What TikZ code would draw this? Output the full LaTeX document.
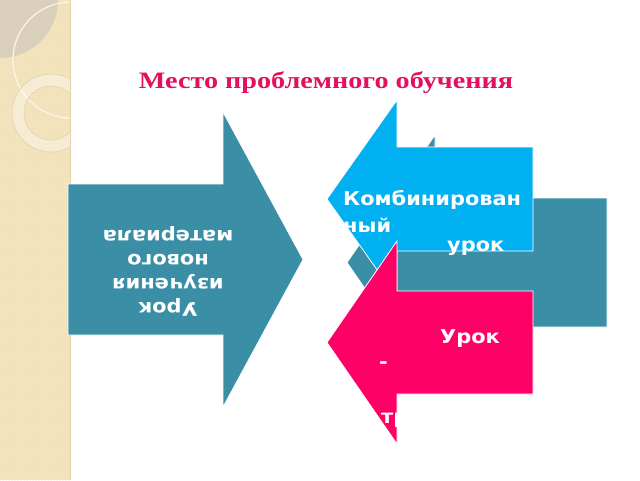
\documentclass[tikz,border=0pt]{standalone}
\usepackage{fontspec}
\setmainfont{Liberation Serif}
\newfontfamily\arrowfont[FakeStretch=1.1]{DejaVu Sans}
\newfontfamily\titlefont[FakeStretch=1.2]{Liberation Serif}
\usetikzlibrary{patterns}
\definecolor{blueA}{HTML}{00B0F0}
\definecolor{tealA}{HTML}{3A8FA7}
\definecolor{pinkA}{HTML}{FF0066}
\definecolor{titlered}{HTML}{E2105E}
\definecolor{beige}{HTML}{F3E4BE}
\definecolor{beigedot}{HTML}{E6D3A6}
\definecolor{grayq}{HTML}{D9CFBA}
\definecolor{cream}{HTML}{FBF6EA}
\definecolor{stripedge}{HTML}{E2D2AC}
\begin{document}
\begin{tikzpicture}[x=1pt,y=-1pt,
  arrowshape/.style={draw=white, line width=0.8pt},
  lbl/.style={text=white, font=\arrowfont\bfseries\fontsize{19}{24}\selectfont, inner sep=0pt}]
\useasboundingbox (0,0) rectangle (640,480);
\fill[white] (0,0) rectangle (640,480);
% decorative strip
\begin{scope}
  \clip (0,0) rectangle (70,480);
  \fill[beige] (0,0) rectangle (70,480);
  \fill[pattern=dots, pattern color=beigedot] (0,0) rectangle (70,480);
  \fill[grayq] (0,0) circle (58pt);
  \draw[cream, line width=1.2pt] (71,60) circle (58pt);
  \fill[white, opacity=0.35, even odd rule] (51,113) circle (39pt) (51,113) circle (27pt);
  \draw[stripedge, line width=0.6pt] (51,113) circle (39pt) (51,113) circle (27pt);
\end{scope}
\draw[stripedge, line width=1pt] (70,0) -- (70,480);
% title
\node[anchor=base, inner sep=0pt, text=titlered, font=\titlefont\bfseries\fontsize{23.5}{28}\selectfont] (title) at (326,88.3) {Место проблемного обучения};
% left arrow
\filldraw[arrowshape, fill=tealA] (68,184) -- (223,184) -- (223,112) -- (303,259.5) -- (223,407) -- (223,335) -- (68,335) -- cycle;
\node[lbl, rotate=180, align=center] (t1) at (168,271) {Урок\\изучения\\нового\\материала};
% right arrows
\filldraw[arrowshape, fill=tealA] (607,198) -- (435,198) -- (435,135) -- (347,262.5) -- (435,390) -- (435,327) -- (607,327) -- cycle;
\filldraw[arrowshape, fill=blueA] (533,147) -- (397,147) -- (397,100) -- (327,199) -- (397,298) -- (397,251) -- (533,251) -- cycle;
\node[lbl, anchor=base west] (t2) at (343,205) {Комбинирован};
\node[lbl, anchor=base west] (t3) at (343,232) {ный};
\node[lbl, anchor=base west] (t4) at (447,251) {урок};
\filldraw[arrowshape, fill=pinkA] (533,291) -- (397,291) -- (397,241) -- (327,342.5) -- (397,444) -- (397,394) -- (533,394) -- cycle;
\node[lbl, anchor=base west] (t5) at (440,343) {Урок};
\node[lbl] (t6) at (383.5,365) {-};
\node[lbl, anchor=base west] (t7) at (381,423) {тр};
\end{tikzpicture}
\end{document}
